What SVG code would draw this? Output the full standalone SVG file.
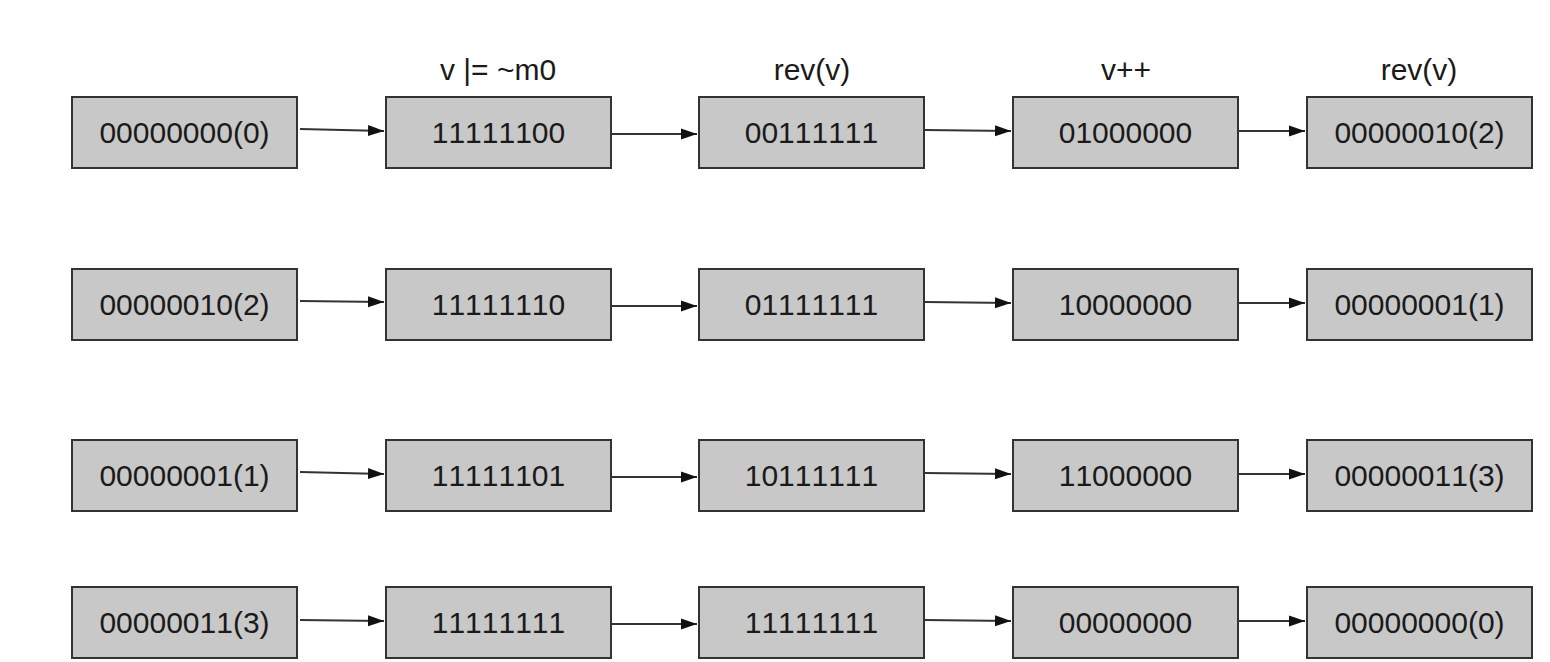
<svg xmlns="http://www.w3.org/2000/svg" width="1550" height="662" viewBox="0 0 1550 662">
<defs>
<marker id="ah" markerWidth="16" markerHeight="12" refX="16" refY="6" orient="auto" markerUnits="userSpaceOnUse">
<path d="M0,0.5 L16,6 L0,11.5 z" fill="#111"/>
</marker>
<style>
.box{fill:#c8c8c8;stroke:#333;stroke-width:2}
.t{font-family:"Liberation Sans",Arial,sans-serif;font-size:30px;fill:#1a1a1a;text-anchor:middle;font-kerning:none}
.h{font-family:"Liberation Sans",Arial,sans-serif;font-size:30px;fill:#1a1a1a;text-anchor:middle}
.c{stroke:#333;stroke-width:2;fill:none;marker-end:url(#ah)}
</style>
</defs>
<rect width="1550" height="662" fill="#fff"/>
<g id="headers">
<text class="h" x="498" y="80">v |= ~m0</text>
<text class="h" x="812" y="80">rev(v)</text>
<text class="h" x="1126" y="80">v++</text>
<text class="h" x="1419" y="80">rev(v)</text>
</g>
<g id="r1c1"><rect class="box" x="72" y="97" width="225" height="71"/><text class="t" x="184.5" y="143">00000000(0)</text></g>
<g id="r1c2"><rect class="box" x="386" y="97" width="225" height="71"/><text class="t" x="498.5" y="143">11111100</text></g>
<g id="r1c3"><rect class="box" x="699" y="97" width="225" height="71"/><text class="t" x="811.5" y="143">00111111</text></g>
<g id="r1c4"><rect class="box" x="1013" y="97" width="225" height="71"/><text class="t" x="1125.5" y="143">01000000</text></g>
<g id="r1c5"><rect class="box" x="1307" y="97" width="225" height="71"/><text class="t" x="1419.5" y="143">00000010(2)</text></g>

<g id="r2c1"><rect class="box" x="72" y="269" width="225" height="71"/><text class="t" x="184.5" y="315">00000010(2)</text></g>
<g id="r2c2"><rect class="box" x="386" y="269" width="225" height="71"/><text class="t" x="498.5" y="315">11111110</text></g>
<g id="r2c3"><rect class="box" x="699" y="269" width="225" height="71"/><text class="t" x="811.5" y="315">01111111</text></g>
<g id="r2c4"><rect class="box" x="1013" y="269" width="225" height="71"/><text class="t" x="1125.5" y="315">10000000</text></g>
<g id="r2c5"><rect class="box" x="1307" y="269" width="225" height="71"/><text class="t" x="1419.5" y="315">00000001(1)</text></g>

<g id="r3c1"><rect class="box" x="72" y="440" width="225" height="71"/><text class="t" x="184.5" y="486">00000001(1)</text></g>
<g id="r3c2"><rect class="box" x="386" y="440" width="225" height="71"/><text class="t" x="498.5" y="486">11111101</text></g>
<g id="r3c3"><rect class="box" x="699" y="440" width="225" height="71"/><text class="t" x="811.5" y="486">10111111</text></g>
<g id="r3c4"><rect class="box" x="1013" y="440" width="225" height="71"/><text class="t" x="1125.5" y="486">11000000</text></g>
<g id="r3c5"><rect class="box" x="1307" y="440" width="225" height="71"/><text class="t" x="1419.5" y="486">00000011(3)</text></g>

<g id="r4c1"><rect class="box" x="72" y="587" width="225" height="71"/><text class="t" x="184.5" y="633">00000011(3)</text></g>
<g id="r4c2"><rect class="box" x="386" y="587" width="225" height="71"/><text class="t" x="498.5" y="633">11111111</text></g>
<g id="r4c3"><rect class="box" x="699" y="587" width="225" height="71"/><text class="t" x="811.5" y="633">11111111</text></g>
<g id="r4c4"><rect class="box" x="1013" y="587" width="225" height="71"/><text class="t" x="1125.5" y="633">00000000</text></g>
<g id="r4c5"><rect class="box" x="1307" y="587" width="225" height="71"/><text class="t" x="1419.5" y="633">00000000(0)</text></g>

<g id="connectors">
<line class="c" x1="300" y1="129" x2="384" y2="131"/>
<line class="c" x1="612" y1="134" x2="697" y2="134"/>
<line class="c" x1="925" y1="130" x2="1011" y2="131"/>
<line class="c" x1="1239" y1="131" x2="1305" y2="131"/>

<line class="c" x1="300" y1="301" x2="384" y2="302"/>
<line class="c" x1="612" y1="306" x2="697" y2="306"/>
<line class="c" x1="925" y1="302" x2="1011" y2="303"/>
<line class="c" x1="1239" y1="303" x2="1305" y2="303"/>

<line class="c" x1="300" y1="472" x2="384" y2="474"/>
<line class="c" x1="612" y1="477" x2="697" y2="477"/>
<line class="c" x1="925" y1="473" x2="1011" y2="474"/>
<line class="c" x1="1239" y1="474" x2="1305" y2="474"/>

<line class="c" x1="300" y1="620" x2="384" y2="621"/>
<line class="c" x1="612" y1="624" x2="697" y2="624"/>
<line class="c" x1="925" y1="620" x2="1011" y2="621"/>
<line class="c" x1="1239" y1="621" x2="1305" y2="621"/>
</g>
</svg>
